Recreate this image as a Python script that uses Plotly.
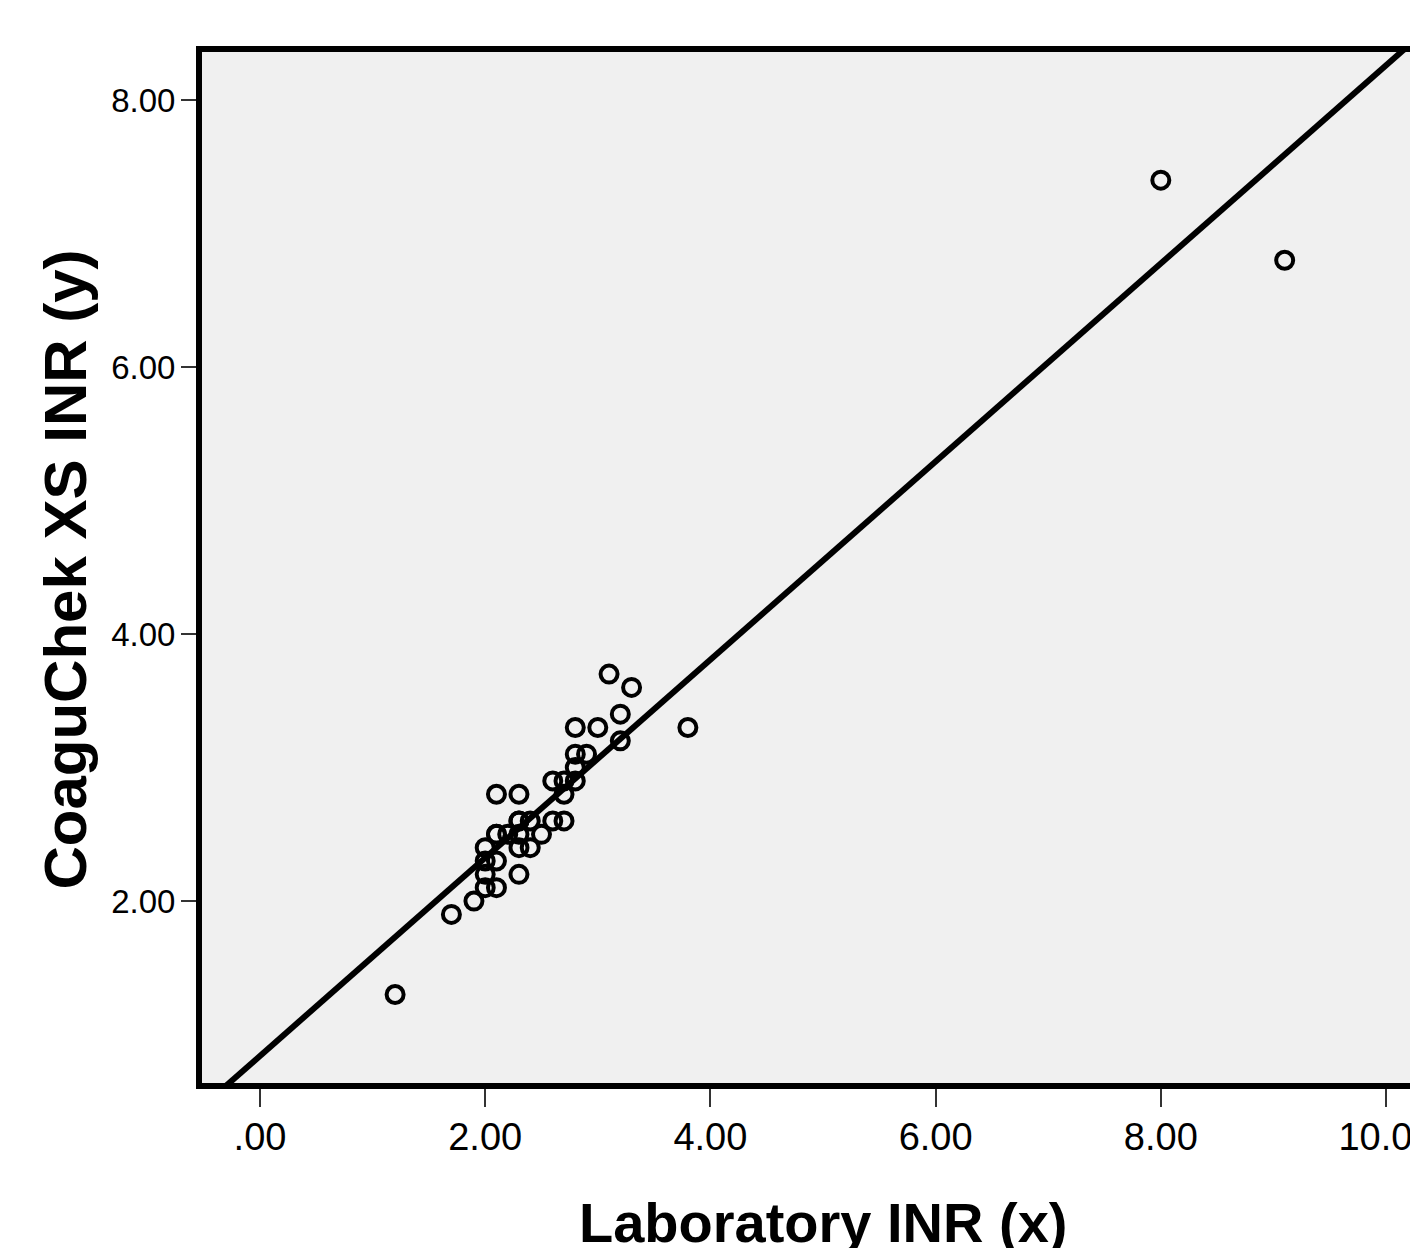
import plotly.graph_objects as go

# Data
lab_inr = [1.2, 1.7, 1.9, 2.0, 2.1, 2.0, 2.0, 2.1, 2.0, 2.1, 2.2, 2.3, 2.1, 2.3,
           2.3, 2.3, 2.4, 2.3, 2.4, 2.5, 2.6, 2.7, 2.3, 2.1, 2.6, 2.7, 2.7,
           2.8, 2.8, 2.8, 2.9, 2.8, 3.0, 3.2, 3.2, 3.1, 3.3, 3.8, 8.0, 9.1]
coaguchek_inr = [1.3, 1.9, 2.0, 2.1, 2.1, 2.2, 2.3, 2.3, 2.4, 2.5, 2.5, 2.2, 2.5, 2.5,
                 2.4, 2.6, 2.4, 2.6, 2.6, 2.5, 2.6, 2.6, 2.8, 2.8, 2.9, 2.8, 2.9,
                 2.9, 3.0, 3.1, 3.1, 3.3, 3.3, 3.2, 3.4, 3.7, 3.6, 3.3, 7.4, 6.8]

# Fit line (intercept, slope) and its drawn extent
fit_intercept = 0.84
fit_slope = 0.742
fit_x = [-1.0, 11.0]
fit_y = [fit_intercept + fit_slope * v for v in fit_x]

x_tickvals = [0, 2, 4, 6, 8, 10]
x_ticktext = [".00", "2.00", "4.00", "6.00", "8.00", "10.00"]
y_tickvals = [2, 4, 6, 8]
y_ticktext = ["2.00", "4.00", "6.00", "8.00"]

x_title = "Laboratory INR (x)"
y_title = "CoaguChek XS INR (y)"

FONT = "Liberation Sans, Arial, sans-serif"

fig = go.Figure()
fig.add_trace(go.Scatter(
    x=fit_x, y=fit_y, mode="lines",
    line=dict(color="black", width=6),
    hoverinfo="skip", showlegend=False,
))
fig.add_trace(go.Scatter(
    x=lab_inr, y=coaguchek_inr, mode="markers",
    marker=dict(symbol="circle-open", size=17, color="black",
                line=dict(width=4, color="black")),
    showlegend=False,
))

fig.update_layout(
    width=1410, height=1248,
    margin=dict(l=202, r=0, t=52, b=165),
    paper_bgcolor="white",
    plot_bgcolor="#F0F0F0",
    font=dict(family=FONT, color="black"),
    showlegend=False,
    xaxis=dict(
        range=[-0.515, 10.213],
        tickvals=x_tickvals, ticktext=x_ticktext,
        tickfont=dict(size=38, family=FONT, color="black"),
        ticks="outside", ticklen=18, tickwidth=2, tickcolor="#333",
        showline=True, linewidth=6, linecolor="black", mirror=True,
        showgrid=False, zeroline=False, automargin=False,
        ticklabelstandoff=-3, ticklabeloverflow="allow",
    ),
    yaxis=dict(
        range=[0.637, 8.36],
        tickvals=y_tickvals, ticktext=y_ticktext,
        tickfont=dict(size=33, family=FONT, color="black"),
        ticks="outside", ticklen=15, tickwidth=2, tickcolor="#333",
        showline=True, linewidth=6, linecolor="black", mirror=False,
        showgrid=False, zeroline=False, automargin=False,
        ticklabelstandoff=-1,
    ),
    annotations=[
        dict(text=x_title, xref="paper", yref="paper",
             x=0.5145, y=-0.135, xanchor="center", yanchor="middle",
             showarrow=False,
             font=dict(size=56, family=FONT, color="black", weight="bold")),
        dict(text=y_title, xref="paper", yref="paper",
             x=-0.113, y=0.4985, xanchor="center", yanchor="middle",
             textangle=-90, showarrow=False,
             font=dict(size=60, family=FONT, color="black", weight="bold")),
    ],
)

fig.write_html(
    "out.html",
    config={"displayModeBar": False},
    post_script="document.body.style.margin='0';document.body.style.overflow='hidden';",
)
